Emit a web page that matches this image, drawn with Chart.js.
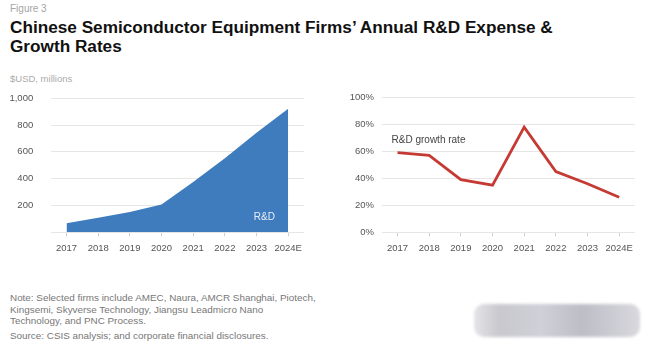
<!DOCTYPE html>
<html>
<head>
<meta charset="utf-8">
<script src="https://cdn.jsdelivr.net/npm/chart.js@4"></script>
<style>
  body { margin: 0; background: #fff; font-family: "Liberation Sans", Arial, sans-serif; }
  #page { position: relative; width: 650px; height: 349px; overflow: hidden; }
  .txt { position: absolute; white-space: nowrap; }
  #fig { left: 10px; top: 3px; font-size: 10px; color: #a5a5a5; }
  #title { left: 10px; top: 18px; font-size: 17.2px; font-weight: bold; color: #111; line-height: 19px; }
  #unit { left: 10px; top: 73px; font-size: 9.5px; color: #ababab; }
  #note { left: 10px; top: 292px; font-size: 9.9px; color: #777; line-height: 11.5px; }
  #source { left: 10px; top: 330px; font-size: 9.9px; color: #777; }
  .box { position: absolute; }
  #blur { position: absolute; left: 474px; top: 304px; width: 166px; height: 33px;
          background: linear-gradient(90deg, #e4e4e8 0%, #c8c8ce 15%, #cfd0d8 40%, #bdbdc6 65%, #d8d8de 100%);
          border-radius: 10px; filter: blur(1.5px); }
</style>
</head>
<body>
<div id="page">
  <div class="txt" id="fig">Figure 3</div>
  <div class="txt" id="title">Chinese Semiconductor Equipment Firms’ Annual R&amp;D Expense &amp;<br>Growth Rates</div>
  <div class="txt" id="unit">$USD, millions</div>
  <div class="box" id="rdBox" style="left:0;top:88px;width:320px;height:175px;"><canvas id="rdChart"></canvas></div>
  <div class="box" id="growthBox" style="left:330px;top:88px;width:320px;height:175px;"><canvas id="growthChart"></canvas></div>
  <div class="txt" id="note">Note: Selected firms include AMEC, Naura, AMCR Shanghai, Piotech,<br>Kingsemi, Skyverse Technology, Jiangsu Leadmicro Nano<br>Technology, and PNC Process.</div>
  <div class="txt" id="source">Source: CSIS analysis; and corporate financial disclosures.</div>
  <div id="blur"></div>
</div>
<script>
const years = ['2017', '2018', '2019', '2020', '2021', '2022', '2023', '2024E'];
const rdExpense = [67, 108, 152, 207, 375, 552, 742, 922];
const rdGrowth = [59, 57, 39, 35, 78, 45, 36, 26];
const expenseTicks = [0, 200, 400, 600, 800, 1000];
const growthTicks = [0, 20, 40, 60, 80, 100];

const tickFont = { family: '"Liberation Sans", Arial, sans-serif', size: 9.5 };

// draws a text label anchored to a category index / value
const labelPlugin = {
    id: 'seriesLabel',
    afterDatasetsDraw(chart, args, opts) {
        const { ctx, scales } = chart;
        const x = scales.x.getPixelForValue(opts.index) + opts.dx;
        const y = scales.y.getPixelForValue(opts.value);
        ctx.save();
        ctx.font = '10px "Liberation Sans", Arial, sans-serif';
        ctx.fillStyle = opts.color;
        ctx.textAlign = opts.align;
        ctx.textBaseline = 'middle';
        ctx.fillText(opts.text, x, y);
        ctx.restore();
    }
};

const baseScales = (yTicks, fmt, yWidth, yPad) => ({
    x: {
        offset: true,
        grid: { drawOnChartArea: false, drawTicks: true, tickLength: 4, color: '#d0d0d0' },
        border: { display: false },
        ticks: { color: '#555', font: tickFont, padding: 6, maxRotation: 0, autoSkip: false },
        afterFit: (s) => { s.height = 30.7; }
    },
    y: {
        min: yTicks[0],
        max: yTicks[yTicks.length - 1],
        afterBuildTicks: (s) => { s.ticks = yTicks.map(v => ({ value: v })); },
        grid: { color: '#e6e6e6', drawTicks: false, lineWidth: 1 },
        border: { display: false },
        ticks: { color: '#555', font: tickFont, padding: yPad, callback: fmt },
        afterFit: (s) => { s.width = yWidth; }
    }
});

// move / stretch the canvas box so the plot area lands where the reference has it
function placeArea(chart, box, target) {
    for (let i = 0; i < 3; i++) {
        const a = chart.chartArea;
        const top = parseFloat(box.style.top);
        const h = parseFloat(box.style.height);
        const newTop = Math.round(top + target.top - (top + a.top));
        const newH = Math.round(h + (target.bottom - (top + a.bottom)) - (newTop - top));
        box.style.top = newTop + 'px';
        box.style.height = newH + 'px';
        chart.resize();
    }
}

const rdChart = new Chart(document.getElementById('rdChart'), {
    type: 'line',
    data: {
        labels: years,
        datasets: [{
            label: 'R&D',
            data: rdExpense,
            fill: 'origin',
            backgroundColor: 'rgb(62,124,190)',
            borderColor: 'rgb(62,124,190)',
            borderWidth: 0,
            pointRadius: 0,
            tension: 0
        }]
    },
    options: {
        responsive: true,
        maintainAspectRatio: false,
        animation: false,
        layout: { padding: { top: 0, right: 16, left: 0, bottom: 0 } },
        scales: baseScales(expenseTicks, v => v === 0 ? '' : v.toLocaleString('en-US'), 50.7, 17.5),
        plugins: {
            legend: { display: false },
            tooltip: { enabled: false },
            seriesLabel: { text: 'R&D', index: 6.25, dx: 0, value: 112, color: '#e8eef7', align: 'center' }
        }
    },
    plugins: [labelPlugin]
});

const growthChart = new Chart(document.getElementById('growthChart'), {
    type: 'line',
    data: {
        labels: years,
        datasets: [{
            label: 'R&D growth rate',
            data: rdGrowth,
            fill: false,
            borderColor: 'rgb(198,58,52)',
            borderWidth: 2.8,
            pointRadius: 0,
            tension: 0
        }]
    },
    options: {
        responsive: true,
        maintainAspectRatio: false,
        animation: false,
        layout: { padding: { top: 0, right: 15, left: 0, bottom: 0 } },
        scales: baseScales(growthTicks, v => v + '%', 51.7, 7.7),
        plugins: {
            legend: { display: false },
            tooltip: { enabled: false },
            seriesLabel: { text: 'R&D growth rate', index: 0, dx: -6, value: 68, color: '#444', align: 'left' }
        }
    },
    plugins: [labelPlugin]
});

placeArea(rdChart, document.getElementById('rdBox'), { top: 98.3, bottom: 232.3 });
placeArea(growthChart, document.getElementById('growthBox'), { top: 97.3, bottom: 232.3 });
</script>
</body>
</html>
